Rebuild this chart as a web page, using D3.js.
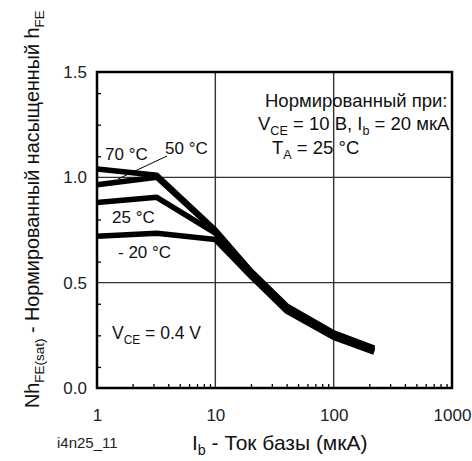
<!DOCTYPE html>
<html>
<head>
<meta charset="utf-8">
<script src="https://cdn.jsdelivr.net/npm/d3@7"></script>
<style>
  body { margin: 0; background: #fff; }
  svg { display: block; font-family: "Liberation Sans", Arial, sans-serif; }
  .axis path { display: none; }
  .axis line { stroke: #000; stroke-width: 1.3; }
  .axis text { font-size: 17px; fill: #222; }
</style>
</head>
<body>
<svg id="chart" width="472" height="461"></svg>
<script>
// base current (uA) and normalized saturated hFE per temperature
let ib = [1, 3.2, 10, 20, 40, 100, 220];
let h70 = [1.04, 1.01, 0.75, 0.555, 0.39, 0.262, 0.19];
let h50 = [0.965, 1.0, 0.745, 0.55, 0.385, 0.255, 0.185];
let h25 = [0.88, 0.905, 0.735, 0.54, 0.375, 0.248, 0.178];
let hm20 = [0.72, 0.735, 0.705, 0.53, 0.365, 0.24, 0.17];

let xTicks = [1, 10, 100, 1000];
let yTicks = [0, 0.5, 1.0, 1.5];
let yMinor = [0.1, 0.25, 0.4, 0.6, 0.8, 1.1, 1.25, 1.4];

let svg = d3.select("#chart");
let x = d3.scaleLog().domain([1, 1000]).range([97, 452]);
let y = d3.scaleLinear().domain([0, 1.5]).range([388, 72]);

// grid
let grid = svg.append("g").attr("stroke", "#333").attr("stroke-width", 1.4);
grid.selectAll("line.v").data([10, 100]).enter().append("line")
    .attr("x1", d => x(d)).attr("x2", d => x(d))
    .attr("y1", y(0)).attr("y2", y(1.5));
grid.selectAll("line.h").data([0.5, 1.0]).enter().append("line")
    .attr("x1", x(1)).attr("x2", x(1000))
    .attr("y1", d => y(d)).attr("y2", d => y(d));

// minor ticks (inside)
let xMinor = [];
[1, 10, 100].forEach(dec => { for (let k = 2; k <= 9; k++) xMinor.push(dec * k); });
svg.append("g").attr("class", "axis")
    .attr("transform", "translate(0," + y(0) + ")")
    .call(d3.axisBottom(x).tickValues(xMinor).tickSize(-4).tickFormat(""));
svg.append("g").attr("class", "axis")
    .attr("transform", "translate(" + x(1) + ",0)")
    .call(d3.axisLeft(y).tickValues(yMinor).tickSize(-4).tickFormat(""));

// major labels
svg.append("g").attr("class", "axis")
    .attr("transform", "translate(0," + y(0) + ")")
    .call(d3.axisBottom(x).tickValues(xTicks).tickSize(0).tickPadding(21).tickFormat(d3.format("d")));
svg.append("g").attr("class", "axis")
    .attr("transform", "translate(" + x(1) + ",0)")
    .call(d3.axisLeft(y).tickValues(yTicks).tickSize(0).tickPadding(10).tickFormat(d3.format(".1f")));

// frame
svg.append("rect")
    .attr("x", x(1)).attr("y", y(1.5))
    .attr("width", x(1000) - x(1)).attr("height", y(0) - y(1.5))
    .attr("fill", "none").attr("stroke", "#000").attr("stroke-width", 2.5);

// curves
let line = d3.line().x((d, i) => x(ib[i])).y(d => y(d));
[hm20, h25, h50, h70].forEach(s => {
    svg.append("path").attr("d", line(s))
        .attr("fill", "none").attr("stroke", "#000")
        .attr("stroke-width", 5.5).attr("stroke-linejoin", "round");
});

// labels: plain strings or {s: subscript}
function label(tx, ty, parts, size, t) {
    t = t || svg.append("text").attr("x", tx).attr("y", ty);
    t.attr("font-size", size).attr("fill", "#111");
    let back = 0;
    parts.forEach(p => {
        if (typeof p === "object") {
            t.append("tspan").attr("font-size", size * 0.68).attr("dy", 5).text(p.s);
            back = -5;
        } else {
            t.append("tspan").attr("dy", back).text(p);
            back = 0;
        }
    });
    return t;
}
label(105, 160, ["70 °C"], 17);
label(165, 154, ["50 °C"], 17);
label(112, 223, ["25 °C"], 17);
label(118, 258, ["- 20 °C"], 17);
svg.append("line").attr("x1", 167).attr("y1", 156).attr("x2", 118).attr("y2", 179)
    .attr("stroke", "#000").attr("stroke-width", 1);

label(112, 339, ["V", {s: "CE"}, " = 0.4 V"], 17.5);
label(265, 107, ["Нормированный при:"], 18.5);
label(258, 130, ["V", {s: "CE"}, " = 10 В, I", {s: "b"}, " = 20 мкА"], 18.5);
label(272, 154, ["T", {s: "A"}, " = 25 °C"], 18.5);

// axis titles
svg.append("text").attr("x", 57).attr("y", 448).attr("font-size", 15).attr("fill", "#222").text("i4n25_11");
label(192, 450, ["I", {s: "b"}, " - Ток базы (мкА)"], 21);

let yt = svg.append("text").attr("transform", "translate(39,408) rotate(-90)");
label(0, 0, ["Nh", {s: "FE(sat)"}, " - Нормированный насыщенный h", {s: "FE"}], 19.8, yt);
</script>
</body>
</html>
